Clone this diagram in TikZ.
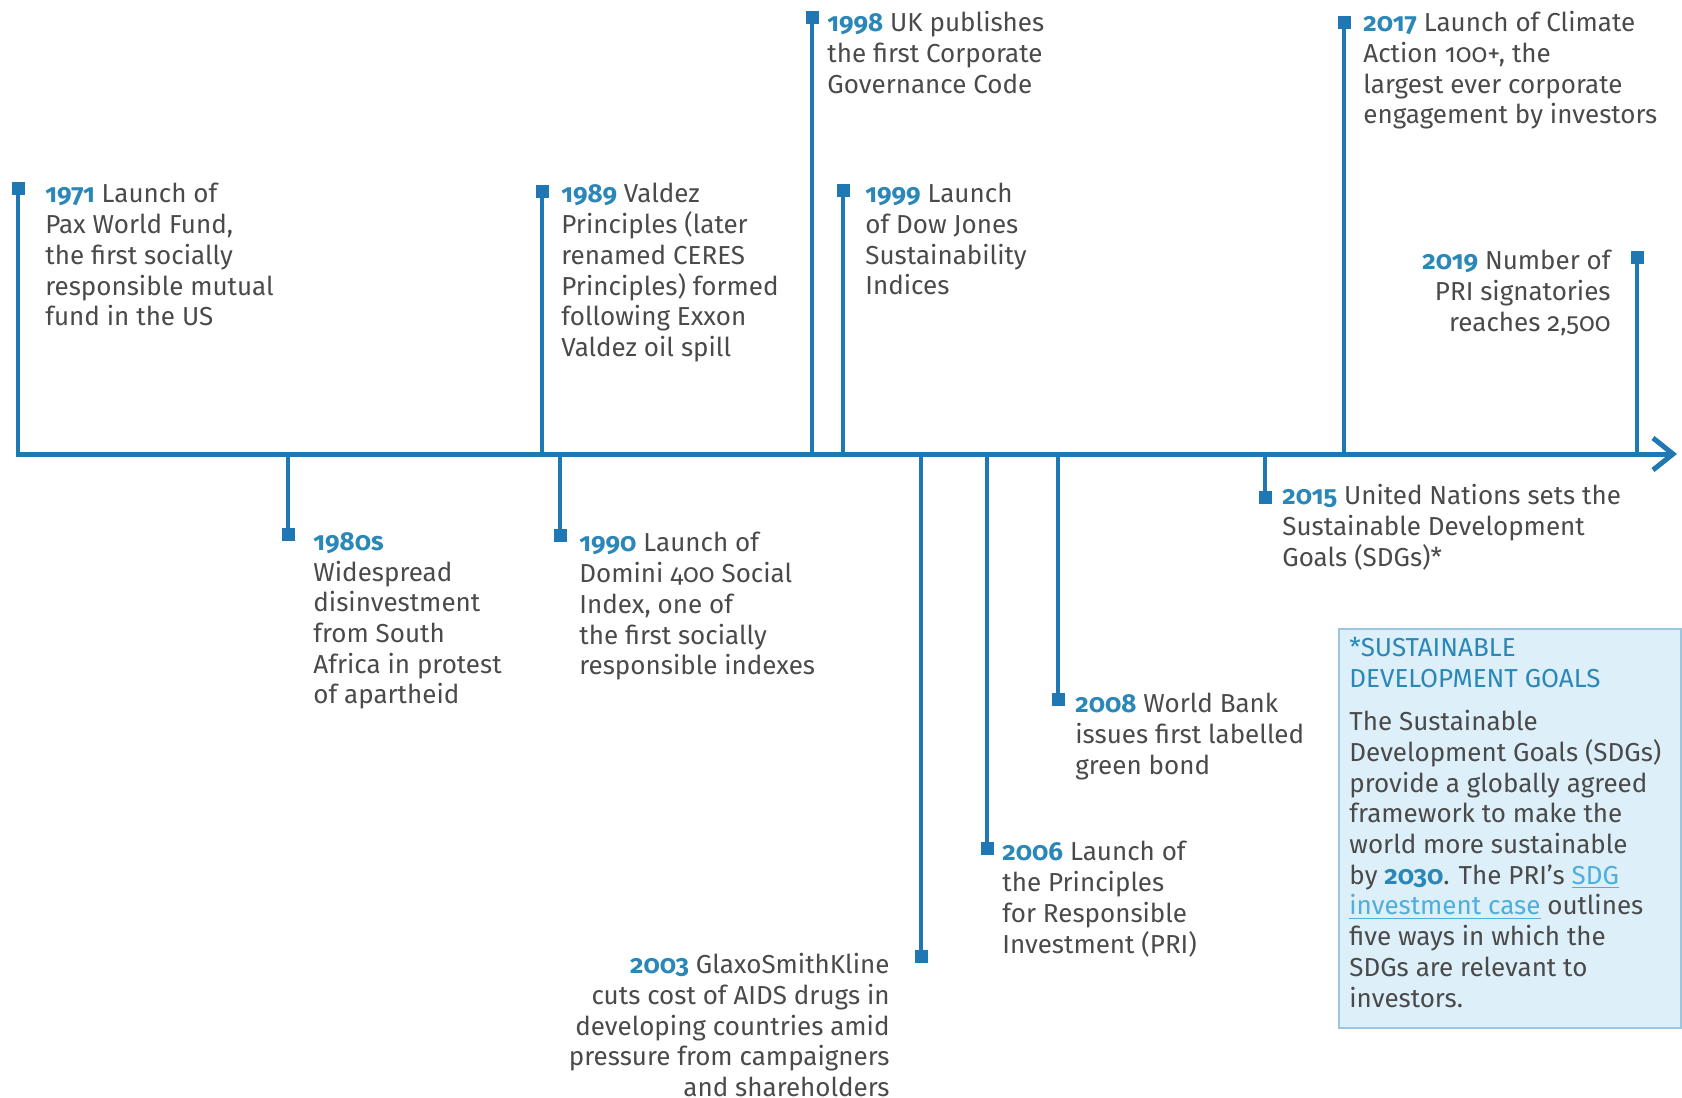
\documentclass[tikz,border=0pt]{standalone}
\usepackage{fontspec}
\setmainfont{Fira Sans}[Numbers=OldStyle]
\usepackage{xcolor}
\usetikzlibrary{positioning}
\usetikzlibrary{arrows.meta}
\definecolor{tlblue}{HTML}{1F78B4}
\definecolor{yrblue}{HTML}{2A87B8}
\definecolor{txtgray}{HTML}{4A4A4A}
\definecolor{boxfill}{HTML}{DDEFF9}
\definecolor{boxline}{HTML}{9CC6DD}
\definecolor{linkblue}{HTML}{4FAEDC}
\newcommand{\yr}[1]{{\bfseries\color{yrblue}#1}}
\tikzset{
  tl_axis/.style = {line width=2.5pt, draw=tlblue,
    -{Straight Barb[length=10pt,width=16pt]}},% axe du temps
  tl_stem/.style = {line width=1.6pt, draw=tlblue},% tige d'un jalon
  tl_mark/.style = {rectangle, fill=tlblue, inner sep=0pt,
    minimum size=6.5pt},% carre au bout de la tige
  tl_text/.style = {inner sep=0pt, align=left, anchor=north west,
    text=txtgray, font=\fontsize{13}{15.35}\selectfont},
  tl_textr/.style = {tl_text, align=right, anchor=north east}% texte a gauche
}

\begin{document}
\begin{tikzpicture}[x=0.5pt,y=-0.5pt]
\useasboundingbox (0,0) rectangle (1682,1098);
\coordinate (ax_s) at (16,454);
\coordinate (ax_e) at (1677,454);
\draw[tl_axis] (ax_s) -- (ax_e);

% jalons au-dessus de l'axe
\node[tl_mark] (m1971) at (18,188) {};
\node[tl_mark] (m1989) at (542,191) {};
\node[tl_mark] (m1998) at (812,17) {};
\node[tl_mark] (m1999) at (843,190) {};
\node[tl_mark] (m2017) at (1344,22) {};
\node[tl_mark] (m2019) at (1637,257) {};
% jalons au-dessous de l'axe
\node[tl_mark] (m1980) at (288,534) {};
\node[tl_mark] (m1990) at (560,535) {};
\node[tl_mark] (m2003) at (921,956) {};
\node[tl_mark] (m2006) at (987,848) {};
\node[tl_mark] (m2008) at (1058,699) {};
\node[tl_mark] (m2015) at (1265,497) {};

\draw[tl_stem] (m1971.center) -- (m1971 |- ax_s);
\draw[tl_stem] (m1989.center) -- (m1989 |- ax_s);
\draw[tl_stem] (m1998.center) -- (m1998 |- ax_s);
\draw[tl_stem] (m1999.center) -- (m1999 |- ax_s);
\draw[tl_stem] (m2017.center) -- (m2017 |- ax_s);
\draw[tl_stem] (m2019.center) -- (m2019 |- ax_s);
\draw[tl_stem] (m1980.center) -- (m1980 |- ax_s);
\draw[tl_stem] (m1990.center) -- (m1990 |- ax_s);
\draw[tl_stem] (m2003.center) -- (m2003 |- ax_s);
\draw[tl_stem] (m2006.center) -- (m2006 |- ax_s);
\draw[tl_stem] (m2008.center) -- (m2008 |- ax_s);
\draw[tl_stem] (m2015.center) -- (m2015 |- ax_s);

% textes
\node[tl_text] (t1971) at (45,183) {\yr{1971} Launch of\\Pax World Fund,\\the first socially\\responsible mutual\\fund in the US};
\node[tl_text] (t1989) at (561,183) {\yr{1989} Valdez\\Principles (later\\renamed CERES\\Principles) formed\\following Exxon\\Valdez oil spill};
\node[tl_text] (t1998) at (827,11) {\yr{1998} UK publishes\\the first Corporate\\Governance Code};
\node[tl_text] (t1999) at (865,183) {\yr{1999} Launch\\of Dow Jones\\Sustainability\\Indices};
\node[tl_text] (t2017) at (1363,11) {\yr{2017} Launch of Climate\\Action 100+, the\\largest ever corporate\\engagement by investors};
\node[tl_textr] (t2019) at (1611,250) {\yr{2019} Number of\\PRI signatories\\reaches 2,500};
\node[tl_text] (t1980) at (313,532) {\yr{1980s}\\Widespread\\disinvestment\\from South\\Africa in protest\\of apartheid};
\node[tl_text] (t1990) at (579,532) {\yr{1990} Launch of\\Domini 400 Social\\Index, one of\\the first socially\\responsible indexes};
\node[tl_textr] (t2003) at (890,953) {\yr{2003} GlaxoSmithKline\\cuts cost of AIDS drugs in\\developing countries amid\\pressure from campaigners\\and shareholders};
\node[tl_text] (t2006) at (1002,841) {\yr{2006} Launch of\\the Principles\\for Responsible\\Investment (PRI)};
\node[tl_text] (t2008) at (1075,693) {\yr{2008} World Bank\\issues first labelled\\green bond};
\node[tl_text] (t2015) at (1282,484) {\yr{2015} United Nations sets the\\Sustainable Development\\Goals (SDGs)*};

% encadre SDG
\node[draw=boxline, fill=boxfill, line width=0.8pt, minimum width=171pt,
  minimum height=199.5pt, anchor=north west, inner sep=0pt] (sdgbox) at (1338,628) {};
\node[tl_text, anchor=north west] (sdgtitle) at (1349,637)
  {\color{yrblue}*SUSTAINABLE\\\color{yrblue}DEVELOPMENT GOALS};
\node[tl_text, below=11pt of sdgtitle.south west, anchor=north west] (sdgbody)
  {The Sustainable\\Development Goals (SDGs)\\provide a globally agreed\\framework to make the\\world more sustainable\\by \yr{2030}. The PRI's \textcolor{linkblue}{\underline{SDG}}\\\textcolor{linkblue}{\underline{investment case}} outlines\\five ways in which the\\SDGs are relevant to\\investors.};
\end{tikzpicture}
\end{document}
